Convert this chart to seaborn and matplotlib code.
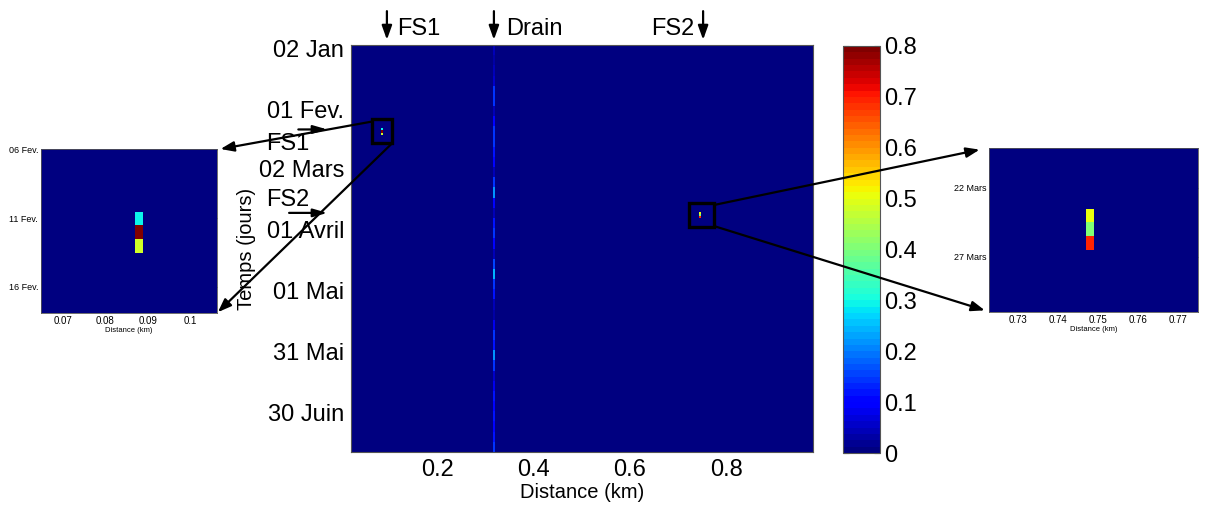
import numpy as np
import matplotlib
matplotlib.use("Agg")
import matplotlib.pyplot as plt
from matplotlib.patches import Rectangle, ConnectionPatch
import seaborn as sns

# ---------------- data ----------------
day_ticks = [1, 31, 60, 90, 120, 150, 180]
day_labels = ["02 Jan", "01 Fev.", "02 Mars", "01 Avril", "01 Mai", "31 Mai", "30 Juin"]
dist_ticks = [0.2, 0.4, 0.6, 0.8]
dist_labels = ["0.2", "0.4", "0.6", "0.8"]
cbar_ticks = [0, 0.1, 0.2, 0.3, 0.4, 0.5, 0.6, 0.7, 0.8]
cbar_labels = ["0", "0.1", "0.2", "0.3", "0.4", "0.5", "0.6", "0.7", "0.8"]

site_names = ["FS1", "Drain", "FS2"]
site_x = [0.096, 0.318, 0.752]

drain_x = 0.318
drain_block_days = 5
drain_values = [0.04, 0.03, 0.04, 0.06, 0.15, 0.14, 0.04, 0.10, 0.14, 0.15,
                0.12, 0.10, 0.04, 0.15, 0.22, 0.10, 0.04, 0.12, 0.14, 0.10,
                0.04, 0.16, 0.24, 0.14, 0.12, 0.04, 0.03, 0.08, 0.14, 0.12,
                0.22, 0.14, 0.05, 0.08, 0.12, 0.10, 0.12, 0.10, 0.12, 0.14]

fs1_x = 0.088
fs1_days = [41, 42, 43]
fs1_values = [0.30, 0.80, 0.48]
fs2_x = 0.748
fs2_days = [82, 83, 84]
fs2_values = [0.50, 0.40, 0.70]

zoom1_xticks = [0.07, 0.08, 0.09, 0.1]
zoom1_xlabels = ["0.07", "0.08", "0.09", "0.1"]
zoom1_dticks = [36, 41, 46]
zoom1_dlabels = ["06 Fev.", "11 Fev.", "16 Fev."]
zoom2_xticks = [0.73, 0.74, 0.75, 0.76, 0.77]
zoom2_xlabels = ["0.73", "0.74", "0.75", "0.76", "0.77"]
zoom2_dticks = [80, 85]
zoom2_dlabels = ["22 Mars", "27 Mars"]

# ---------------- styling ----------------
sns.set_theme(style="white")
plt.rcParams["font.family"] = ["Liberation Sans", "DejaVu Sans"]
plt.rcParams["text.color"] = "black"
plt.rcParams["axes.labelcolor"] = "black"
plt.rcParams["xtick.color"] = "black"
plt.rcParams["ytick.color"] = "black"
cmap = matplotlib.colormaps["jet"].resampled(64)
BIG = 17

W, H = 1211, 507
fig = plt.figure(figsize=(W / 100, H / 100), dpi=100)
fig.patch.set_facecolor("white")


def rect(l, t, r, b):
    return [l / W, 1 - b / H, (r - l) / W, (b - t) / H]


class Grid:
    def __init__(self, x0c, dx, nx, d0, nd):
        self.x0c, self.dx, self.nx, self.d0, self.nd = x0c, dx, nx, d0, nd

    def ix(self, x):
        return (x - self.x0c) / self.dx + 0.5

    def iy(self, d):
        return (d - self.d0) + 0.5

    def field(self):
        z = np.zeros((self.nd, self.nx))
        xs = self.x0c + self.dx * np.arange(self.nx)
        ds = self.d0 + np.arange(self.nd)
        j = int(np.argmin(np.abs(xs - drain_x)))
        if abs(xs[j] - drain_x) <= self.dx / 2 + 1e-9:
            for i, d in enumerate(ds):
                k = int(d // drain_block_days)
                if 0 <= k < len(drain_values):
                    z[i, j] = drain_values[k]
        for fx, fd, fv in [(fs1_x, fs1_days, fs1_values), (fs2_x, fs2_days, fs2_values)]:
            j = int(np.argmin(np.abs(xs - fx)))
            if abs(xs[j] - fx) <= self.dx / 2 + 1e-9:
                for d, v in zip(fd, fv):
                    i = d - self.d0
                    if 0 <= i < self.nd:
                        z[i, j] = max(z[i, j], v)
        return z


def frame(ax, color="#555555", lw=0.8):
    for s in ax.spines.values():
        s.set_visible(True)
        s.set_color(color)
        s.set_linewidth(lw)


# ---------------- main panel ----------------
ax = fig.add_axes(rect(351, 45, 813, 452))
cax = fig.add_axes(rect(843, 46, 880, 453))
g = Grid(0.022, 0.004, 240, 0, 200)
sns.heatmap(g.field(), ax=ax, cmap=cmap, vmin=0, vmax=0.8, cbar_ax=cax,
            xticklabels=False, yticklabels=False, rasterized=True)
ax.set_xlim(g.ix(0.0215), g.ix(0.98))
ax.set_ylim(200, 0)
ax.set_xticks([g.ix(v) for v in dist_ticks])
ax.set_xticklabels(dist_labels, fontsize=BIG)
ax.set_yticks([g.iy(v) for v in day_ticks])
ax.set_yticklabels(day_labels, fontsize=BIG, rotation=0)
ax.tick_params(direction="in", length=4, width=0.8, color="#222222",
               labelcolor="black", top=True, right=True, bottom=True, left=True, pad=5)
frame(ax)
ax.set_xlabel("Distance (km)", fontsize=14.5, color="black")
ax.xaxis.set_label_coords(0.5, -0.075)
ax.set_ylabel("Temps (jours)", fontsize=14.5, color="black")
ax.yaxis.set_label_coords(-0.206, 0.5)

cbar = ax.collections[0].colorbar
cbar.set_ticks(cbar_ticks)
cbar.set_ticklabels(cbar_labels)
cax.tick_params(direction="in", length=4, width=0.8, left=True, right=True,
                labelleft=False, labelright=True, labelsize=BIG, pad=3,
                color="#222222", labelcolor="black")
cbar.outline.set_edgecolor("#555555")
cbar.outline.set_linewidth(0.8)

# site arrows on top
xt = ax.get_xaxis_transform()
text_offsets = {"FS1": 5.5, "Drain": 6.5, "FS2": -4.5}
for name, sx in zip(site_names, site_x):
    ax.annotate("", xy=(g.ix(sx), 1.006), xycoords=xt,
                xytext=(g.ix(sx), 1.09), textcoords=xt,
                arrowprops=dict(arrowstyle="-|>,head_length=0.7,head_width=0.25",
                                color="black", lw=1.6), annotation_clip=False)
    off = text_offsets[name]
    ax.text(g.ix(sx) + off, 1.04, name, transform=xt, color="black",
            ha="right" if off < 0 else "left", va="center", fontsize=BIG)

# event arrows on the time axis
yt = ax.get_yaxis_transform()
for name, fd, ty in [("FS1", fs1_days, 48.6), ("FS2", fs2_days, 76.2)]:
    ax.annotate("", xy=(-0.045, g.iy(fd[0])), xycoords=yt,
                xytext=(-0.14 if name == "FS2" else -0.12, g.iy(fd[0])), textcoords=yt,
                arrowprops=dict(arrowstyle="-|>,head_length=0.7,head_width=0.2",
                                color="black", lw=1.6), annotation_clip=False)
    ax.text(-0.1375, ty, name, transform=yt, ha="center", va="center",
            fontsize=BIG, color="black")


# ---------------- insets ----------------
def inset(pos, grid, xl, dl, xticks, xlabels, dticks, dlabels):
    a = fig.add_axes(pos)
    sns.heatmap(grid.field(), ax=a, cmap=cmap, vmin=0, vmax=0.8, cbar=False,
                xticklabels=False, yticklabels=False, rasterized=True)
    a.set_xlim(grid.ix(xl[0]), grid.ix(xl[1]))
    a.set_ylim(grid.iy(dl[1]), grid.iy(dl[0]))
    a.set_xticks([grid.ix(v) for v in xticks])
    a.set_xticklabels(xlabels, fontsize=7)
    a.set_yticks([grid.iy(v) for v in dticks])
    a.set_yticklabels(dlabels, fontsize=6.5, rotation=0)
    a.tick_params(direction="in", length=2.5, width=0.6, top=True, right=True,
                  pad=2, color="#333333", labelcolor="black")
    frame(a, lw=0.6)
    a.set_xlabel("Distance (km)", fontsize=5.5, labelpad=1, color="black")
    box = Rectangle((g.ix(xl[0]), g.iy(dl[0])), g.ix(xl[1]) - g.ix(xl[0]),
                    g.iy(dl[1]) - g.iy(dl[0]), fill=False, ec="black", lw=2.4,
                    zorder=5)
    ax.add_patch(box)
    return a


xl1, dl1 = (0.0648, 0.1064), (35.93, 47.9)
xl2, dl2 = (0.7228, 0.775), (77.1, 89.0)
a1 = inset(rect(41, 149, 217, 313), Grid(0.064, 0.002, 22, 36, 13), xl1, dl1,
           zoom1_xticks, zoom1_xlabels, zoom1_dticks, zoom1_dlabels)
a2 = inset(rect(989, 148, 1198, 312), Grid(0.722, 0.002, 28, 77, 13), xl2, dl2,
           zoom2_xticks, zoom2_xlabels, zoom2_dticks, zoom2_dlabels)


def connect(xA, dA, axB, xyB):
    cp = ConnectionPatch(xyA=(g.ix(xA), g.iy(dA)), coordsA=ax.transData,
                         xyB=xyB, coordsB=axB.transAxes,
                         arrowstyle="-|>,head_length=0.8,head_width=0.3",
                         color="black", lw=1.6, zorder=10)
    fig.add_artist(cp)


connect(xl1[0], dl1[0] + 1.2, a1, (1.02, 1.0))
connect(xl1[1], dl1[1], a1, (1.005, 0.005))
connect(xl2[1], dl2[0] + 1.0, a2, (-0.045, 0.99))
connect(xl2[1], dl2[1] - 0.5, a2, (-0.02, 0.01))

fig.savefig("out.png", dpi=100, facecolor="white")
